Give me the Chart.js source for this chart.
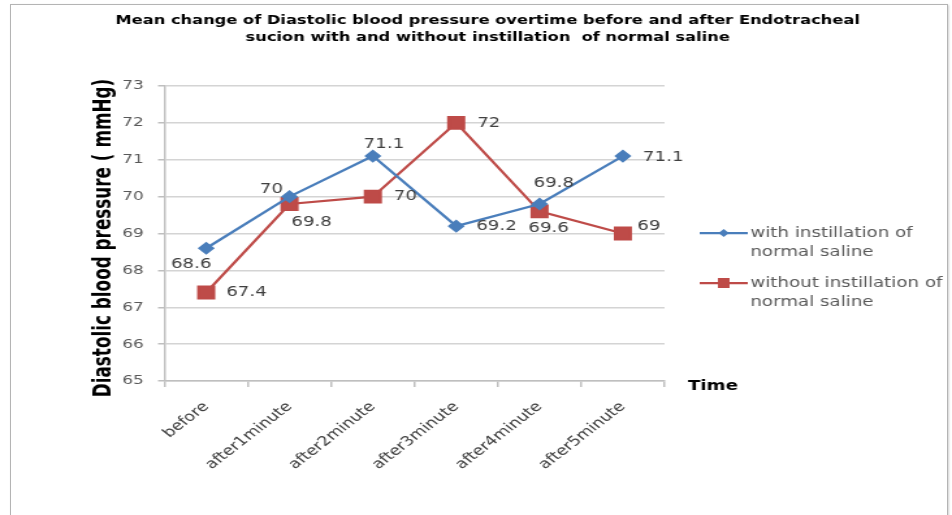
<!DOCTYPE html>
<html>
<head>
<meta charset="utf-8">
<script src="https://cdn.jsdelivr.net/npm/chart.js@4.4.1/dist/chart.umd.min.js"></script>
<style>
    html, body { margin: 0; padding: 0; background: #fff; }
    #wrap { position: relative; width: 952px; height: 515px; overflow: hidden; }
    #frame { position: absolute; left: 10px; top: 4px; width: 936px; height: 540px; border: 1px solid #b4b4b4; box-shadow: 1px 1px 2px #d0d0d0; }
    /* el grafico original esta estirado horizontalmente */
    #chart { position: absolute; left: 0; top: 0; width: 732px; height: 515px; transform: scaleX(1.3005); transform-origin: 0 0; }
</style>
</head>
<body>
<div id="wrap">
    <div id="frame"></div>
    <canvas id="chart" width="732" height="515"></canvas>
</div>
<script>
// Datos del grafico
const categories = ['before', 'after1minute', 'after2minute', 'after3minute', 'after4minute', 'after5minute'];
const withSaline = [68.6, 70, 71.1, 69.2, 69.8, 71.1];
const withoutSaline = [67.4, 69.8, 70, 72, 69.6, 69];
const seriesNames = ['with instillation of normal saline', 'without instillation of normal saline'];
const yMin = 65, yMax = 73, yStep = 1;
const chartTitle = ['Mean change of Diastolic blood pressure overtime before and after Endotracheal',
                    'sucion with and without instillation  of normal saline'];
const yTitle = 'Diastolic blood pressure ( mmHg)';
const xTitle = 'Time';

// Posicion de las etiquetas de valor (relativa al punto)
const labelOffsets = [
    [[-11.5, 16], [-14, -7], [8.5, -12], [31, 0], [11, -21], [31, 1]],
    [[31, 0], [17, 18], [25, 0], [25, 0], [7, 17], [20, -7]]
];

const BLUE = '#4a7ebb';
const RED = '#be4b48';

// Titulo del grafico y del eje Y
const titles = {
    id: 'titles',
    afterDraw(chart) {
        const ctx = chart.ctx;
        ctx.save();
        ctx.font = 'bold 12.5px "DejaVu Sans"';
        ctx.fillStyle = '#000';
        ctx.textAlign = 'center';
        ctx.textBaseline = 'middle';
        chartTitle.forEach((line, i) => ctx.fillText(line, 375, 20.5 + i * 17.5));

        ctx.translate(80, 238);
        ctx.rotate(-Math.PI / 2);
        ctx.font = 'bold 18.7px "DejaVu Sans Condensed", "DejaVu Sans", sans-serif';
        ctx.fillText(yTitle, 0, 0);
        ctx.restore();
    }
};

// Etiquetas de valor
const valueLabels = {
    id: 'valueLabels',
    afterDatasetsDraw(chart) {
        const ctx = chart.ctx;
        ctx.save();
        ctx.font = '14px "DejaVu Sans"';
        ctx.fillStyle = '#404040';
        ctx.textAlign = 'center';
        ctx.textBaseline = 'middle';
        chart.data.datasets.forEach((ds, i) => {
            chart.getDatasetMeta(i).data.forEach((pt, j) => {
                const off = labelOffsets[i][j];
                ctx.fillText(String(ds.data[j]), pt.x + off[0], pt.y + off[1]);
            });
        });
        ctx.restore();
    }
};

// Leyenda lateral y titulo del eje X
const sideLegend = {
    id: 'sideLegend',
    afterDraw(chart) {
        const ctx = chart.ctx;
        const area = chart.chartArea;
        ctx.save();

        // "Time"
        ctx.font = 'bold 14px "DejaVu Sans"';
        ctx.fillStyle = '#000';
        ctx.textAlign = 'left';
        ctx.textBaseline = 'middle';
        ctx.fillText(xTitle, area.right + 18, area.bottom + 5);

        ctx.font = '14px "DejaVu Sans"';
        const x0 = area.right + 27;
        chart.data.datasets.forEach((ds, i) => {
            const y = area.top + 147 + i * 50;
            ctx.strokeStyle = ds.borderColor;
            ctx.lineWidth = 2.25;
            ctx.beginPath();
            ctx.moveTo(x0, y);
            ctx.lineTo(x0 + 37, y);
            ctx.stroke();
            ctx.fillStyle = ds.backgroundColor;
            const cx = x0 + 18.5;
            if (ds.pointStyle === 'rect') {
                ctx.fillRect(cx - 4.5, y - 5, 9, 10);
            } else {
                ctx.beginPath();
                ctx.moveTo(cx - 4, y);
                ctx.lineTo(cx, y - 4);
                ctx.lineTo(cx + 4, y);
                ctx.lineTo(cx, y + 4);
                ctx.closePath();
                ctx.fill();
            }
            // partir el texto en lineas
            const words = ds.label.split(' ');
            const lines = [];
            let line = '';
            words.forEach(w => {
                const test = line ? line + ' ' + w : w;
                if (ctx.measureText(test).width > 170 && line) {
                    lines.push(line);
                    line = w;
                } else {
                    line = test;
                }
            });
            lines.push(line);
            ctx.fillStyle = '#595959';
            lines.forEach((l, k) => ctx.fillText(l, x0 + 39, y + k * 19));
        });
        ctx.restore();
    }
};

const ctx = document.getElementById('chart').getContext('2d');
const chart = new Chart(ctx, {
    type: 'line',
    data: {
        labels: categories,
        datasets: [{
            label: seriesNames[0],
            data: withSaline,
            borderColor: BLUE,
            backgroundColor: BLUE,
            borderWidth: 2.25,
            pointStyle: 'rectRot',
            pointRadius: 5,
            pointHoverRadius: 5,
            tension: 0
        }, {
            label: seriesNames[1],
            data: withoutSaline,
            borderColor: RED,
            backgroundColor: RED,
            borderWidth: 2.25,
            pointStyle: 'rect',
            pointRadius: 8.3,
            pointHoverRadius: 8.3,
            tension: 0
        }]
    },
    options: {
        responsive: false,
        animation: false,
        devicePixelRatio: 1,
        layout: {
            padding: { left: 0, right: 221, top: 86, bottom: 34 }
        },
        plugins: {
            legend: { display: false },
            tooltip: { enabled: false },
            title: { display: false }
        },
        scales: {
            x: {
                offset: true,
                grid: {
                    offset: true,
                    drawOnChartArea: false,
                    tickLength: 6,
                    tickColor: '#bfbfbf',
                    lineWidth: 1.5
                },
                border: { color: '#bfbfbf', width: 1.5 },
                ticks: {
                    maxRotation: 45,
                    minRotation: 45,
                    color: '#404040',
                    font: { family: 'DejaVu Sans', size: 13.5 },
                    padding: 12
                },
                afterFit(scale) { scale.height = 100; }
            },
            y: {
                min: yMin,
                max: yMax,
                ticks: {
                    stepSize: yStep,
                    color: '#595959',
                    font: { family: 'DejaVu Sans', size: 13 },
                    padding: 11
                },
                grid: {
                    color: '#d4d4d4',
                    lineWidth: 1.5,
                    tickLength: 5,
                    tickColor: '#bfbfbf'
                },
                border: { color: '#bfbfbf', width: 1.5 },
                afterFit(scale) { scale.width = 126.5; }
            }
        }
    },
    plugins: [titles, valueLabels, sideLegend]
});
</script>
</body>
</html>
